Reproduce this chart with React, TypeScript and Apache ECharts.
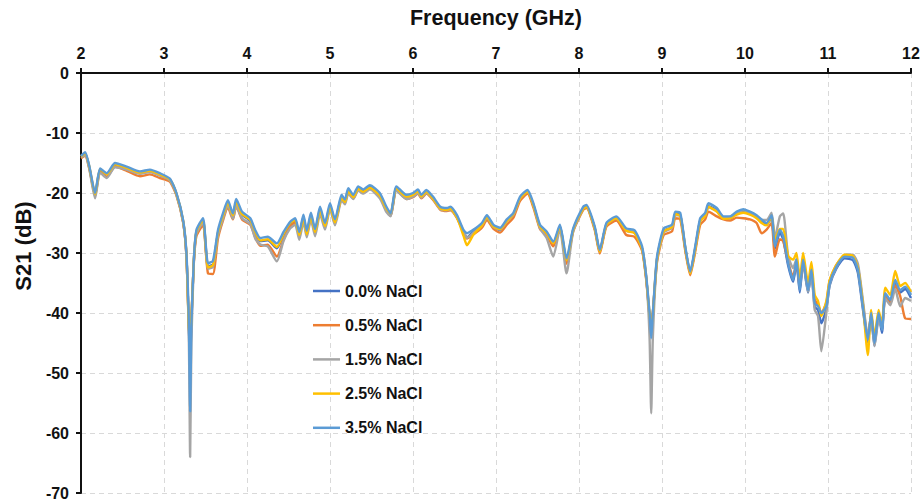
import { useEffect, useRef } from "react";
import * as echarts from "echarts";

// frequency points (GHz), rows of 10
const FREQ = [
  2.0, 2.05, 2.1, 2.17, 2.23, 2.31, 2.41, 2.55, 2.71, 2.83,
  2.95, 3.07, 3.15, 3.23, 3.27, 3.3, 3.315, 3.33, 3.36, 3.39,
  3.47, 3.53, 3.59, 3.65, 3.71, 3.77, 3.83, 3.87, 3.94, 4.04,
  4.1, 4.16, 4.25, 4.36, 4.44, 4.52, 4.58, 4.63, 4.68, 4.72,
  4.77, 4.82, 4.88, 4.94, 5.0, 5.06, 5.14, 5.18, 5.22, 5.28,
  5.34, 5.4, 5.48, 5.6, 5.68, 5.73, 5.8, 5.92, 6.0, 6.06,
  6.1, 6.16, 6.24, 6.33, 6.41, 6.45, 6.53, 6.61, 6.65, 6.73,
  6.83, 6.89, 6.97, 7.05, 7.13, 7.21, 7.29, 7.38, 7.45, 7.53,
  7.61, 7.69, 7.77, 7.85, 7.93, 8.05, 8.09, 8.19, 8.25, 8.33,
  8.45, 8.57, 8.67, 8.76, 8.81, 8.85, 8.87, 8.89, 8.94, 9.02,
  9.12, 9.16, 9.22, 9.28, 9.34, 9.4, 9.46, 9.52, 9.56, 9.66,
  9.74, 9.82, 9.9, 9.98, 10.06, 10.14, 10.2, 10.26, 10.32, 10.36,
  10.42, 10.46, 10.52, 10.58, 10.62, 10.66, 10.7, 10.76, 10.8, 10.84,
  10.88, 10.92, 10.98, 11.02, 11.1, 11.2, 11.3, 11.36, 11.42, 11.48,
  11.52, 11.56, 11.61, 11.65, 11.69, 11.75, 11.81, 11.87, 11.93, 12.0,
];

const NACL_00 = [
  -13.9, -13.4, -15.7, -20.3, -16.1, -16.9, -15.3, -15.9, -16.7, -16.4,
  -17.0, -17.8, -20.2, -24.7, -30.3, -42.5, -48.0, -41.5, -31.2, -26.6,
  -24.6, -32.2, -31.9, -26.7, -23.9, -21.7, -23.8, -21.5, -23.6, -24.7,
  -26.7, -28.0, -27.9, -29.2, -27.0, -25.2, -24.7, -26.9, -24.0, -26.7,
  -23.7, -26.4, -22.7, -25.4, -22.1, -24.7, -20.7, -21.4, -19.6, -20.6,
  -19.2, -19.7, -19.0, -20.3, -22.7, -23.8, -19.2, -20.6, -20.3, -19.7,
  -20.6, -19.8, -20.9, -22.6, -22.8, -22.6, -24.0, -26.5, -27.4, -26.4,
  -25.3, -24.0, -25.6, -26.2, -24.7, -23.6, -21.0, -19.9, -22.0, -25.6,
  -26.7, -28.7, -25.6, -31.5, -26.2, -22.6, -22.3, -25.9, -29.8, -25.3,
  -24.2, -26.3, -26.6, -29.3, -34.2, -40.5, -42.0, -40.0, -31.0, -26.3,
  -25.7, -23.5, -23.7, -29.2, -33.3, -29.3, -24.6, -23.7, -22.2, -22.9,
  -24.2, -24.2, -23.4, -23.0, -23.4, -24.0, -24.8, -25.3, -24.1, -29.3,
  -26.6, -27.7, -32.1, -34.8, -31.6, -36.6, -31.5, -36.6, -33.2, -39.0,
  -39.5, -41.7, -39.3, -35.4, -32.6, -30.9, -31.2, -33.3, -39.3, -44.9,
  -40.5, -45.5, -40.3, -43.3, -37.2, -38.2, -35.0, -36.6, -36.0, -37.5,
];

const NACL_05 = [
  -14.2, -13.8, -15.9, -20.5, -16.5, -17.3, -15.6, -16.3, -17.2, -16.9,
  -17.5, -18.1, -20.4, -24.9, -30.5, -42.5, -46.0, -41.0, -31.5, -27.2,
  -25.3, -33.4, -33.5, -27.6, -24.6, -22.4, -24.4, -22.2, -24.4, -25.3,
  -27.4, -28.8, -28.6, -30.6, -27.8, -25.6, -24.9, -27.1, -24.4, -27.0,
  -24.1, -26.7, -23.0, -25.7, -22.3, -25.0, -21.0, -21.6, -19.9, -20.9,
  -19.5, -20.0, -19.3, -20.6, -22.9, -23.8, -19.5, -21.0, -20.7, -20.1,
  -20.9, -20.1, -21.1, -22.8, -23.0, -22.9, -24.2, -26.6, -27.6, -26.9,
  -25.8, -24.5, -26.0, -26.6, -25.3, -24.1, -21.3, -20.1, -22.4, -26.0,
  -27.0, -28.9, -25.9, -31.8, -26.4, -22.8, -22.5, -26.2, -30.1, -25.6,
  -24.6, -27.0, -27.3, -29.6, -34.5, -40.5, -41.5, -40.0, -31.5, -27.0,
  -26.4, -24.2, -24.4, -29.6, -33.7, -29.8, -25.3, -24.4, -23.1, -23.9,
  -24.4, -24.6, -24.1, -24.2, -24.4, -25.0, -26.7, -26.1, -25.0, -30.6,
  -27.7, -28.0, -31.5, -33.8, -31.6, -35.7, -31.5, -35.8, -33.0, -37.8,
  -38.6, -40.0, -38.3, -34.6, -32.0, -30.5, -30.5, -32.3, -38.4, -44.0,
  -40.3, -44.7, -40.6, -42.3, -37.3, -38.5, -35.4, -37.2, -40.9, -41.0,
];

const NACL_15 = [
  -14.0, -13.7, -16.0, -20.9, -16.6, -17.5, -15.7, -16.1, -16.8, -16.5,
  -17.1, -17.9, -20.3, -24.8, -30.5, -45.0, -64.0, -45.0, -31.4, -26.8,
  -24.9, -32.6, -32.3, -27.1, -24.3, -22.0, -24.3, -22.1, -24.2, -25.2,
  -27.6, -28.6, -28.9, -31.4, -28.0, -25.9, -25.3, -27.8, -24.8, -27.4,
  -24.4, -27.2, -23.5, -26.1, -22.7, -25.4, -21.2, -21.9, -20.1, -21.0,
  -19.6, -20.1, -19.4, -20.9, -23.2, -23.9, -19.6, -21.0, -20.6, -20.0,
  -20.8, -20.0, -21.0, -22.7, -22.9, -22.7, -24.1, -26.4, -27.5, -26.6,
  -25.4, -24.1, -25.7, -26.1, -24.7, -23.6, -20.9, -19.8, -22.0, -25.9,
  -27.5, -30.6, -26.0, -33.4, -26.4, -22.6, -22.3, -25.9, -29.7, -25.3,
  -24.2, -26.2, -26.5, -29.2, -34.0, -44.0, -56.7, -44.0, -31.2, -26.6,
  -25.8, -23.7, -23.8, -29.1, -33.3, -29.2, -24.6, -23.8, -22.4, -23.0,
  -24.1, -24.0, -23.3, -22.9, -23.3, -23.9, -24.5, -24.5, -23.3, -27.5,
  -23.9, -23.4, -30.5, -32.5, -31.0, -35.0, -31.5, -36.5, -33.5, -39.5,
  -40.5, -46.4, -40.0, -35.3, -32.4, -30.3, -30.3, -31.8, -37.8, -44.0,
  -40.6, -45.5, -41.3, -42.5, -37.6, -38.7, -36.0, -38.9, -37.5, -38.0,
];

const NACL_25 = [
  -13.9, -13.4, -15.6, -20.2, -16.0, -16.9, -15.2, -15.8, -16.6, -16.3,
  -16.9, -17.7, -20.1, -24.6, -30.2, -42.5, -44.0, -41.0, -31.1, -26.4,
  -24.5, -32.4, -32.0, -26.6, -23.8, -21.6, -23.7, -21.4, -23.5, -24.5,
  -26.5, -27.9, -27.7, -29.0, -26.8, -25.0, -24.5, -27.0, -24.2, -26.9,
  -23.9, -26.5, -22.9, -25.5, -22.3, -24.9, -20.8, -21.5, -19.7, -20.7,
  -19.3, -19.8, -19.1, -20.4, -22.6, -23.4, -19.2, -20.6, -20.3, -19.7,
  -20.6, -19.8, -20.9, -22.6, -22.8, -22.6, -24.1, -27.2, -28.7, -26.9,
  -25.4, -24.0, -25.6, -26.0, -24.7, -23.5, -20.9, -19.8, -22.0, -25.6,
  -26.7, -28.4, -25.6, -31.2, -26.1, -22.6, -22.3, -25.9, -29.8, -25.3,
  -24.2, -26.3, -26.7, -29.3, -34.2, -40.0, -42.5, -40.0, -31.0, -26.4,
  -25.7, -23.5, -23.8, -29.2, -33.4, -29.4, -24.7, -23.8, -22.3, -23.1,
  -24.3, -24.2, -23.6, -23.3, -23.6, -24.2, -25.0, -25.4, -23.8, -27.8,
  -26.0, -26.0, -30.5, -31.1, -30.0, -34.5, -30.0, -35.0, -31.5, -37.0,
  -38.0, -40.5, -38.0, -34.5, -32.0, -30.3, -30.5, -32.5, -38.5, -47.0,
  -39.5, -44.0, -39.5, -42.0, -35.8, -37.0, -33.0, -35.5, -35.0, -36.5,
];

const NACL_35 = [
  -13.8, -13.2, -15.5, -20.0, -15.9, -16.7, -15.0, -15.6, -16.4, -16.1,
  -16.7, -17.6, -20.0, -24.5, -30.0, -42.0, -56.4, -42.0, -31.0, -26.2,
  -24.2, -31.7, -31.3, -26.2, -23.4, -21.2, -23.4, -21.0, -23.1, -24.2,
  -26.2, -27.5, -27.3, -28.4, -26.5, -24.8, -24.2, -26.5, -23.6, -26.3,
  -23.3, -26.0, -22.3, -25.0, -21.7, -24.4, -20.3, -21.1, -19.2, -20.3,
  -18.9, -19.4, -18.7, -20.0, -22.3, -23.4, -18.9, -20.3, -20.0, -19.4,
  -20.3, -19.5, -20.6, -22.3, -22.5, -22.3, -23.7, -26.2, -26.7, -26.1,
  -25.0, -23.7, -25.3, -25.8, -24.4, -23.3, -20.6, -19.5, -21.7, -25.3,
  -26.4, -28.1, -25.3, -30.9, -25.9, -22.3, -22.0, -25.6, -29.5, -25.0,
  -23.9, -25.9, -26.2, -28.9, -33.9, -40.0, -44.2, -40.0, -30.6, -25.9,
  -25.3, -23.1, -23.3, -28.9, -33.1, -28.9, -24.2, -23.3, -21.7, -22.5,
  -23.9, -23.9, -23.1, -22.7, -23.1, -23.7, -24.4, -25.0, -23.7, -28.9,
  -26.1, -27.2, -31.7, -34.5, -31.1, -36.2, -31.1, -36.2, -32.8, -38.4,
  -38.9, -40.0, -38.9, -35.1, -32.3, -30.6, -30.8, -32.8, -38.9, -44.5,
  -40.0, -45.0, -40.0, -42.8, -36.7, -37.8, -34.5, -36.2, -35.6, -37.0,
];

const SERIES_NAMES = ["0.0% NaCl", "0.5% NaCl", "1.5% NaCl", "2.5% NaCl", "3.5% NaCl"];
const SERIES_VALUES = [NACL_00, NACL_05, NACL_15, NACL_25, NACL_35];
const COLORS = ["#4472C4", "#ED7D31", "#A5A5A5", "#FFC000", "#5B9BD5"];

const FONT = "Arial, 'Liberation Sans', sans-serif";

export default function App() {
  const chartRef = useRef<HTMLDivElement>(null);

  useEffect(() => {
    if (!chartRef.current) return;
    const chart = echarts.init(chartRef.current, null, { renderer: "svg" });

    const gridLine = { show: true, lineStyle: { color: "#d9d9d9", type: [5, 4] as number[], width: 1 } };

    chart.setOption({
      animation: false,
      textStyle: { fontFamily: FONT },
      grid: { left: 81, top: 73, right: 12, bottom: 9 },
      legend: {
        data: SERIES_NAMES,
        orient: "vertical",
        left: 308,
        top: 278,
        icon: "rect",
        itemWidth: 27,
        itemHeight: 2.5,
        itemGap: 18.2,
        textStyle: { fontFamily: FONT, fontSize: 16, fontWeight: "bold", color: "#111" },
      },
      xAxis: {
        type: "value",
        position: "top",
        min: 2,
        max: 12,
        interval: 1,
        name: "Frequency (GHz)",
        nameLocation: "middle",
        nameGap: 44,
        nameTextStyle: { fontFamily: FONT, fontSize: 21.5, fontWeight: "bold", color: "#111" },
        axisLine: { lineStyle: { color: "#111", width: 2 } },
        axisTick: { show: true, length: 5, lineStyle: { color: "#111", width: 2 } },
        axisLabel: { margin: 12, fontFamily: FONT, fontSize: 16, fontWeight: "bold", color: "#111" },
        splitLine: gridLine,
      },
      yAxis: {
        type: "value",
        min: -70,
        max: 0,
        interval: 10,
        name: "S21 (dB)",
        nameLocation: "middle",
        nameGap: 45,
        nameTextStyle: {
          fontFamily: FONT,
          fontSize: 22,
          fontWeight: "bold",
          color: "#111",
          padding: [0, 0, 0, 74],
        },
        axisLine: { show: true, lineStyle: { color: "#111", width: 2 } },
        axisTick: { show: true, length: 5, lineStyle: { color: "#111", width: 2 } },
        axisLabel: { margin: 12, fontFamily: FONT, fontSize: 16, fontWeight: "bold", color: "#111" },
        splitLine: gridLine,
      },
      series: SERIES_NAMES.map((name, i) => ({
        name,
        type: "line",
        symbol: "none",
        smooth: 0.2,
        color: COLORS[i],
        lineStyle: { color: COLORS[i], width: 2.4 },
        data: FREQ.map((f, j) => [f, SERIES_VALUES[i][j]]),
      })),
    });

    return () => chart.dispose();
  }, []);

  return (
    <div
      ref={chartRef}
      style={{ position: "fixed", left: 0, top: 0, width: 923, height: 502, background: "#fff" }}
    />
  );
}
